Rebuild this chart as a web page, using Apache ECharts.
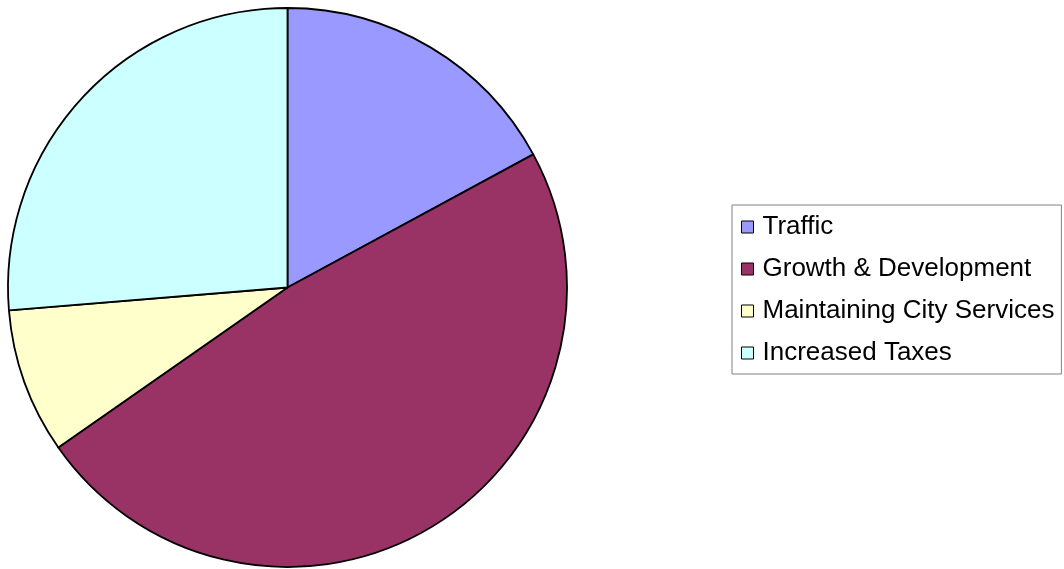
<!DOCTYPE html>
<html>
<head>
<meta charset="utf-8">
<script src="https://cdn.jsdelivr.net/npm/echarts@6/dist/echarts.min.js"></script>
<style>
  html, body { margin: 0; padding: 0; background: #fff; }
  #chart { width: 1064px; height: 569px; }
</style>
</head>
<body>
<div id="chart"></div>
<script>
const categories = ['Traffic', 'Growth & Development', 'Maintaining City Services', 'Increased Taxes']
const shares = [17.1, 48.2, 8.4, 26.3]
const sliceColors = ['#9999ff', '#993366', '#ffffcc', '#ccffff']

const chart = echarts.init(document.getElementById('chart'))

chart.setOption({
  backgroundColor: '#ffffff',
  animation: false,
  legend: {
    orient: 'vertical',
    left: 732,
    top: 205,
    icon: 'rect',
    itemWidth: 12,
    itemHeight: 12,
    itemGap: 12,
    padding: [7, 7, 6, 9],
    borderColor: '#808080',
    borderWidth: 1,
    backgroundColor: '#ffffff',
    itemStyle: { borderColor: '#000', borderWidth: 1 },
    textStyle: {
      color: '#000',
      fontFamily: 'Liberation Sans, Arial, sans-serif',
      fontSize: 26,
      lineHeight: 30,
      padding: [0, 0, 0, 4],
    },
    data: categories,
  },
  series: [
    {
      type: 'pie',
      center: [287.5, 287.5],
      radius: 279.5,
      startAngle: 90,
      clockwise: true,
      label: { show: false },
      labelLine: { show: false },
      emphasis: { disabled: true },
      itemStyle: { borderColor: '#000', borderWidth: 1.8 },
      data: categories.map((name, i) => ({
        name,
        value: shares[i],
        itemStyle: { color: sliceColors[i] },
      })),
    },
  ],
})
</script>
</body>
</html>
